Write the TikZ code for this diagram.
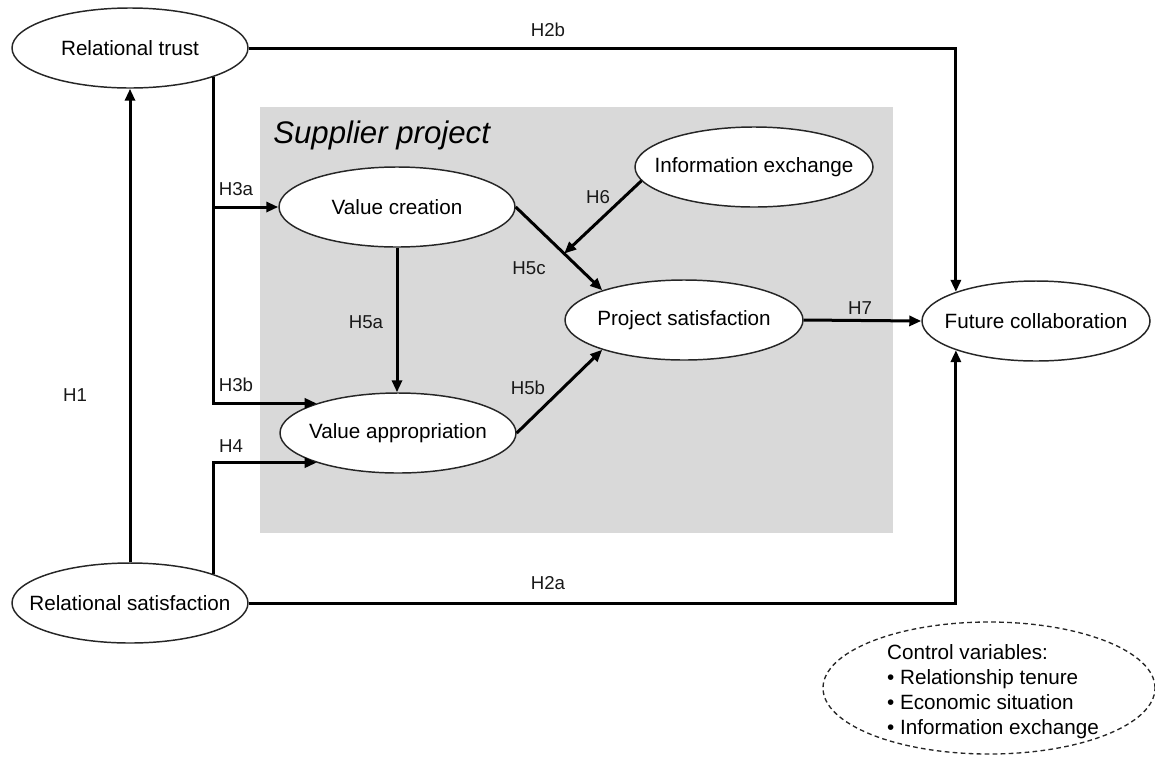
\documentclass[tikz,border=0pt]{standalone}
\usepackage{fontspec}
\setmainfont{Liberation Sans}
\usetikzlibrary{shapes.geometric,arrows.meta,calc}

% centred text of zero width, so the ellipse keeps its set size
\newcommand{\ctext}[1]{\makebox[0pt][c]{#1}}

\begin{document}
\begin{tikzpicture}[x=0.75pt,y=-0.75pt,
  construct/.style={ellipse, draw=black!85, fill=white, line width=1.1pt,
    inner sep=0pt, minimum width=177pt, minimum height=60pt,
    font=\fontsize{15.5}{18}\selectfont},
  link/.style={draw=black, line width=2.25pt},
  conn/.style={link, -{Triangle[length=9pt,width=7.5pt]}},
  hyp/.style={font=\fontsize{14}{16}\selectfont, inner sep=0pt, text=black!90},
  region/.style={fill=black!15, draw=none, inner sep=0pt},
  controlbox/.style={ellipse, draw=black!85, dashed, dash pattern=on 3.5pt off 2.5pt,
    line width=1pt, inner sep=0pt, minimum width=249pt, minimum height=99pt},
  controltext/.style={align=left, inner sep=0pt,
    font=\fontsize{15.5}{18.75}\selectfont}
]
\useasboundingbox (0,0) rectangle (1155,758);

% shaded project area
\node[region, minimum width=474.75pt, minimum height=319.5pt] (project) at (576.5,320) {};
\node[anchor=base west, inner sep=0pt, font=\fontsize{23.4}{26}\selectfont\itshape]
  (projlabel) at (273,143) {Supplier project};

% constructs
\node[construct] (rt) at (130,48) {\ctext{Relational trust}};
\node[construct] (rs) at (130,603) {\ctext{Relational satisfaction}};
\node[construct] (vc) at (397,207) {\ctext{Value creation}};
\node[construct] (va) at (398,433) {\ctext{Value appropriation}};
\node[construct, minimum width=178.5pt] (ie) at (754,167) {\ctext{Information exchange}};
\node[construct, minimum width=178.5pt] (ps) at (684,320) {\ctext{Project satisfaction}};
\node[construct, minimum width=171pt] (fc) at (1036,321) {\ctext{Future collaboration}};

% control variables
\node[controlbox] (cv) at (989,688) {};
\node[controltext] (cvtext) at (993,692) {Control variables:\\
  \textbullet\ Relationship tenure\\
  \textbullet\ Economic situation\\
  \textbullet\ Information exchange};

% relational paths
\draw[conn] (rs.north) -- (rt.south);
\coordinate (h2bcorner) at (fc.160 |- rt.east);
\draw[conn] (rt.east) -- (h2bcorner) -- (fc.160);
\draw[conn] (rs.east) -| (fc.200);

% trust into the project
\draw[conn] (rt.341) |- (va.160);
\coordinate (h3abranch) at (rt.341 |- vc.west);
\draw[conn] (h3abranch) -- (vc.west);
\draw[conn] (rs.19) |- (va.200);

% project paths
\draw[conn] (vc.south) -- (vc.south |- va.north);
\draw[conn] (vc.east) -- (ps.160);
\coordinate (h6target) at ($(vc.east)!0.56!(ps.160)$);
\draw[conn] (ie.187) -- (h6target);
\draw[conn] (va.east) -- (ps.200);
\draw[conn] (ps.east) -- (fc.west);

% hypothesis labels
\node[hyp] (lh1) at (75,395) {H1};
\node[hyp] (lh2b) at (548,30) {H2b};
\node[hyp] (lh2a) at (548,583) {H2a};
\node[hyp] (lh3a) at (236,189) {H3a};
\node[hyp] (lh3b) at (236,385) {H3b};
\node[hyp] (lh4) at (231,446) {H4};
\node[hyp] (lh5a) at (366,322) {H5a};
\node[hyp] (lh5c) at (529,268) {H5c};
\node[hyp] (lh6) at (598,197) {H6};
\node[hyp] (lh5b) at (528,388) {H5b};
\node[hyp] (lh7) at (860,308) {H7};
\end{tikzpicture}
\end{document}
